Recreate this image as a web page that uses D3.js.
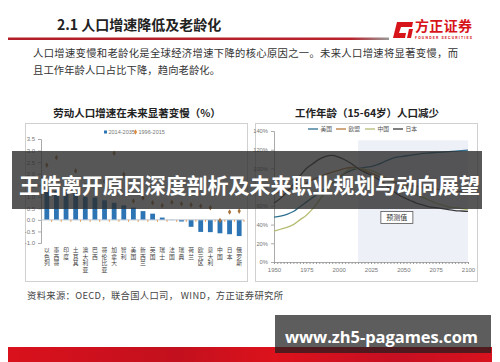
<!DOCTYPE html>
<html>
<head>
<meta charset="utf-8">
<script src="https://cdn.jsdelivr.net/npm/d3@7"></script>
<style>
html, body { margin: 0; padding: 0; background: #fff; }
svg { display: block; font-family: "Noto Sans CJK SC", "Noto Sans", sans-serif; }
</style>
</head>
<body>
<svg id="slide" width="500" height="362"></svg>
<script>
// 左图：劳动人口增速 (%)
const countries = ["以色列","墨西哥","印度","土耳其","澳大利亚","巴西","哥伦比亚","加拿大",
                   "智利","美国","新西兰","英国","瑞士","法国","瑞典","荷兰",
                   "欧元区","意大利","中国","日本","俄罗斯"];
const growth2014 = [1.3, 1.25, 1.2, 1.15, 1.0, 0.97, 0.85, 0.74, 0.63, 0.53, 0.38,
                    0.27, 0.1, -0.01, -0.07, -0.3, -0.52, -0.53, -0.58, -0.62, -0.7];
const growth1996 = [2.37, 2.7, 1.6, 2.12, 1.5, 1.4, 1.67, 2.88, 1.97, 0.82, 0.95,
                    0.74, 0.62, 0.76, 0.7, 0.65, 0.6, 0.53, -0.03, 0.34, 0.38];
const leftTicks = [-1.0, -0.5, 0.0, 0.5, 1.0, 1.5, 2.0, 2.5, 3.0, 3.5];
const leftLegend = ["2014-2035", "1996-2015"];

// 右图：工作年龄人口（2015 = 100%）
const years = [1950,1955,1960,1965,1970,1975,1980,1985,1990,1995,2000,2005,2010,2015,2020,2025,
               2030,2035,2040,2045,2050,2055,2060,2065,2070,2075,2080,2085,2090,2095,2100];
const usa   = [0.48,0.49,0.51,0.54,0.59,0.64,0.69,0.74,0.79,0.84,0.90,0.95,0.98,1.00,1.01,1.02,
               1.04,1.07,1.10,1.12,1.13,1.14,1.15,1.16,1.165,1.17,1.175,1.18,1.185,1.19,1.195];
const eu    = [0.73,0.75,0.77,0.79,0.81,0.84,0.88,0.91,0.94,0.96,0.98,1.00,1.01,1.00,0.98,0.95,
               0.92,0.89,0.87,0.85,0.83,0.82,0.81,0.80,0.79,0.78,0.77,0.765,0.76,0.755,0.75];
const china = [0.33,0.35,0.37,0.40,0.45,0.50,0.57,0.66,0.76,0.84,0.90,0.96,1.00,1.00,0.99,0.98,
               0.95,0.91,0.87,0.84,0.80,0.76,0.72,0.69,0.66,0.63,0.61,0.59,0.58,0.57,0.56];
const japan = [0.63,0.68,0.75,0.83,0.92,1.00,1.05,1.10,1.13,1.14,1.12,1.09,1.05,1.00,0.96,0.93,
               0.89,0.84,0.78,0.73,0.69,0.66,0.63,0.61,0.59,0.58,0.57,0.56,0.55,0.545,0.54];
const seriesNames = ["美国", "欧盟", "中国", "日本"];
const yearTicks = [1950, 1975, 2000, 2025, 2050, 2075, 2100];
const rightTicks = [0, 0.2, 0.4, 0.6, 0.8, 1.0, 1.2, 1.4];
const forecast = [2015, 2100];

const svg = d3.select("#slide");

// ---------- 页眉 ----------
svg.append("text").attr("x", 57).attr("y", 30)
    .attr("font-size", 14).attr("font-weight", "bold").attr("fill", "#222")
    .text("2.1 人口增速降低及老龄化");

const lg = svg.append("defs").append("linearGradient").attr("id", "rule");
lg.append("stop").attr("offset", "0%").attr("stop-color", "#b11e28");
lg.append("stop").attr("offset", "90%").attr("stop-color", "#b8232c");
lg.append("stop").attr("offset", "100%").attr("stop-color", "#999");
svg.append("rect").attr("x", 8).attr("y", 37.5).attr("width", 381).attr("height", 2.5)
    .attr("fill", "url(#rule)");

// logo
svg.append("path").attr("fill", "#d7141a")
    .attr("d", "M397,22 L413,22 L412,27 L401,27 L399,33 L406,33 L405,38 L393,38 Z");
svg.append("path").attr("fill", "#d7141a")
    .attr("d", "M409,29 L413,29 L411,38 L407,38 Z");
svg.append("text").attr("x", 415).attr("y", 31)
    .attr("font-size", 14).attr("font-weight", "bold").attr("fill", "#d7141a")
    .attr("textLength", 57).text("方正证券");
svg.append("text").attr("x", 415).attr("y", 38.5)
    .attr("font-size", 3.6).attr("font-weight", "bold").attr("fill", "#d7141a")
    .attr("font-family", "Roboto, sans-serif")
    .attr("textLength", 57).text("FOUNDER SECURITIES");

svg.append("text").attr("x", 33).attr("y", 57)
    .attr("font-size", 10.3).attr("fill", "#333").attr("textLength", 425)
    .text("人口增速变慢和老龄化是全球经济增速下降的核心原因之一。未来人口增速将显著变慢，而");
svg.append("text").attr("x", 33).attr("y", 74)
    .attr("font-size", 10.3).attr("fill", "#333").attr("textLength", 187)
    .text("且工作年龄人口占比下降，趋向老龄化。");

// ---------- 左图 ----------
svg.append("text").attr("x", 137).attr("y", 117).attr("text-anchor", "middle")
    .attr("font-size", 10.5).attr("font-weight", "bold").attr("fill", "#222")
    .text("劳动人口增速在未来显著变慢（%）");
svg.append("rect").attr("x", 25.5).attr("y", 123.5).attr("width", 222).attr("height", 158)
    .attr("fill", "#fff").attr("stroke", "#d0d0d0");

const xL = d3.scaleBand().domain(countries).range([42, 244])
    .paddingInner(0.5).paddingOuter(0.25);
const yL = d3.scaleLinear().domain([-1, 3.5]).range([243, 139]);

const axL = svg.append("g").attr("transform", "translate(41,0)")
    .call(d3.axisLeft(yL).tickValues(leftTicks).tickSize(3).tickFormat(d => d.toFixed(1)));
axL.select(".domain").attr("stroke", "#aaa");
axL.selectAll(".tick line").attr("stroke", "#aaa");
axL.selectAll("text").attr("font-size", 6).attr("fill", "#777").attr("font-family", "Liberation Sans, sans-serif");

svg.append("g").selectAll("rect").data(countries).join("rect")
    .attr("x", d => xL(d))
    .attr("width", xL.bandwidth())
    .attr("y", (d, i) => yL(Math.max(0, growth2014[i])))
    .attr("height", (d, i) => Math.abs(yL(growth2014[i]) - yL(0)))
    .attr("fill", "#2c74b3");

svg.append("line").attr("x1", 41).attr("x2", 244).attr("y1", yL(0)).attr("y2", yL(0))
    .attr("stroke", "#b8c4d0");
svg.append("g").selectAll("line").data(countries).join("line")
    .attr("x1", d => xL(d) + xL.bandwidth() + xL.step() * 0.25)
    .attr("x2", d => xL(d) + xL.bandwidth() + xL.step() * 0.25)
    .attr("y1", yL(0)).attr("y2", yL(0) + 2)
    .attr("stroke", "#e8a060");

svg.append("g").selectAll("path").data(countries).join("path")
    .attr("d", d3.symbol(d3.symbolDiamond, 9))
    .attr("transform", (d, i) => `translate(${xL(d) + xL.bandwidth() / 2},${yL(growth1996[i])})`)
    .attr("fill", "#a8723a");

// x 轴标签（竖排）
const lab = svg.append("g");
countries.forEach(c => {
    const cx = xL(c) + xL.bandwidth() / 2;
    Array.from(c).forEach((ch, k) => {
        lab.append("text").attr("x", cx).attr("y", 252 + k * 6.7)
            .attr("text-anchor", "middle").attr("font-size", 5.8).attr("fill", "#444")
            .text(ch);
    });
});

// 左图图例
svg.append("rect").attr("x", 104).attr("y", 130.5).attr("width", 3).attr("height", 3).attr("fill", "#2c74b3");
svg.append("text").attr("x", 108.5).attr("y", 134).attr("font-size", 5.5).attr("fill", "#777")
    .attr("font-family", "Liberation Sans, sans-serif").text(leftLegend[0]);
svg.append("path").attr("d", d3.symbol(d3.symbolDiamond, 9))
    .attr("transform", "translate(135.5,132)").attr("fill", "#e08a3a");
svg.append("text").attr("x", 138.5).attr("y", 134).attr("font-size", 5.5).attr("fill", "#777")
    .attr("font-family", "Liberation Sans, sans-serif").text(leftLegend[1]);

// ---------- 右图 ----------
svg.append("text").attr("x", 367).attr("y", 117).attr("text-anchor", "middle")
    .attr("font-size", 10.5).attr("font-weight", "bold").attr("fill", "#222")
    .text("工作年龄（15-64岁）人口减少");
svg.append("rect").attr("x", 255.5).attr("y", 123.5).attr("width", 222).attr("height", 158)
    .attr("fill", "#fff").attr("stroke", "#d0d0d0");

const xR = d3.scaleLinear().domain([1950, 2100]).range([274, 468]);
const yR = d3.scaleLinear().domain([0, 1.4]).range([262, 131]);

svg.append("rect").attr("x", xR(forecast[0])).attr("y", yR(1.3))
    .attr("width", xR(forecast[1]) - xR(forecast[0])).attr("height", yR(0) - yR(1.3))
    .attr("fill", "#eef0f8");

const ayR = svg.append("g").attr("transform", "translate(274,0)")
    .call(d3.axisLeft(yR).tickValues(rightTicks).tickSize(3).tickFormat(d3.format(".0%")));
ayR.select(".domain").attr("stroke", "#aaa");
ayR.selectAll(".tick line").attr("stroke", "#aaa");
ayR.selectAll("text").attr("font-size", 5.8).attr("fill", "#777").attr("font-family", "Liberation Sans, sans-serif");

const axR = svg.append("g").attr("transform", "translate(0,262)")
    .call(d3.axisBottom(xR).tickValues(d3.range(1950, 2100.1, 2.5)).tickSize(2).tickFormat(""));
axR.select(".domain").attr("stroke", "#aaa");
axR.selectAll(".tick line").attr("stroke", "#999");
svg.append("g").attr("transform", "translate(0,262)")
    .call(d3.axisBottom(xR).tickValues(yearTicks).tickSize(0).tickPadding(6).tickFormat(d3.format("d")))
    .call(g => g.select(".domain").remove())
    .selectAll("text").attr("font-size", 6).attr("fill", "#777").attr("font-family", "Liberation Sans, sans-serif");

const lineColors = ["#2e6f8f", "#b87a3c", "#b7bc74", "#3a3a3a"];
const lineData = [usa, eu, china, japan];
const line = d3.line().x((d, i) => xR(years[i])).y(d => yR(d)).curve(d3.curveMonotoneX);
svg.append("g").selectAll("path").data(lineData).join("path")
    .attr("d", line).attr("fill", "none")
    .attr("stroke", (d, i) => lineColors[i]).attr("stroke-width", 1.3);

// 预测值 标注
const bx = xR(2045), by = yR(0.475);
svg.append("rect").attr("x", bx - 16).attr("y", by - 6).attr("width", 32).attr("height", 12)
    .attr("fill", "#fff").attr("stroke", "#555").attr("stroke-width", 0.8);
svg.append("text").attr("x", bx).attr("y", by + 2.5).attr("text-anchor", "middle")
    .attr("font-size", 7).attr("fill", "#333").text("预测值");

// 右图图例
const legX = [308, 336, 365, 393];
seriesNames.forEach((n, i) => {
    svg.append("line").attr("x1", legX[i]).attr("x2", legX[i] + 10).attr("y1", 129).attr("y2", 129)
        .attr("stroke", lineColors[i]).attr("stroke-width", 1.3);
    svg.append("text").attr("x", legX[i] + 12.5).attr("y", 131).attr("font-size", 5.8)
        .attr("fill", "#555").text(n);
});

// ---------- 资料来源 ----------
svg.append("text").attr("x", 27).attr("y", 298.5)
    .attr("font-size", 9.3).attr("fill", "#444").attr("textLength", 256)
    .text("资料来源：OECD，联合国人口司， WIND，方正证券研究所");

// ---------- 底部 ----------
const rg = svg.select("defs").append("linearGradient").attr("id", "band");
[["0%", "#d9111c"], ["35%", "#c3101e"], ["55%", "#dc121c"], ["80%", "#c60f22"], ["100%", "#d8121e"]]
    .forEach(s => rg.append("stop").attr("offset", s[0]).attr("stop-color", s[1]));
svg.append("rect").attr("x", 8).attr("y", 347).attr("width", 484).attr("height", 15)
    .attr("fill", "url(#band)");

svg.append("rect").attr("x", 275).attr("y", 315).attr("width", 216).attr("height", 38)
    .attr("fill", "rgba(30,30,30,0.72)");
svg.append("text").attr("x", 285).attr("y", 343)
    .attr("font-size", 16.5).attr("font-weight", "bold").attr("fill", "#fff")
    .attr("font-family", "'Open Sans', 'DejaVu Sans', sans-serif")
    .attr("textLength", 193).text("www.zh5-pagames.com");

// ---------- 横幅 ----------
svg.append("rect").attr("x", 12).attr("y", 151).attr("width", 470).attr("height", 58)
    .attr("fill", "rgba(45,45,45,0.8)");
svg.append("text").attr("x", 19).attr("y", 193)
    .attr("font-size", 21).attr("font-weight", "bold").attr("fill", "#fff")
    .attr("textLength", 461)
    .text("王皓离开原因深度剖析及未来职业规划与动向展望");
</script>
</body>
</html>
